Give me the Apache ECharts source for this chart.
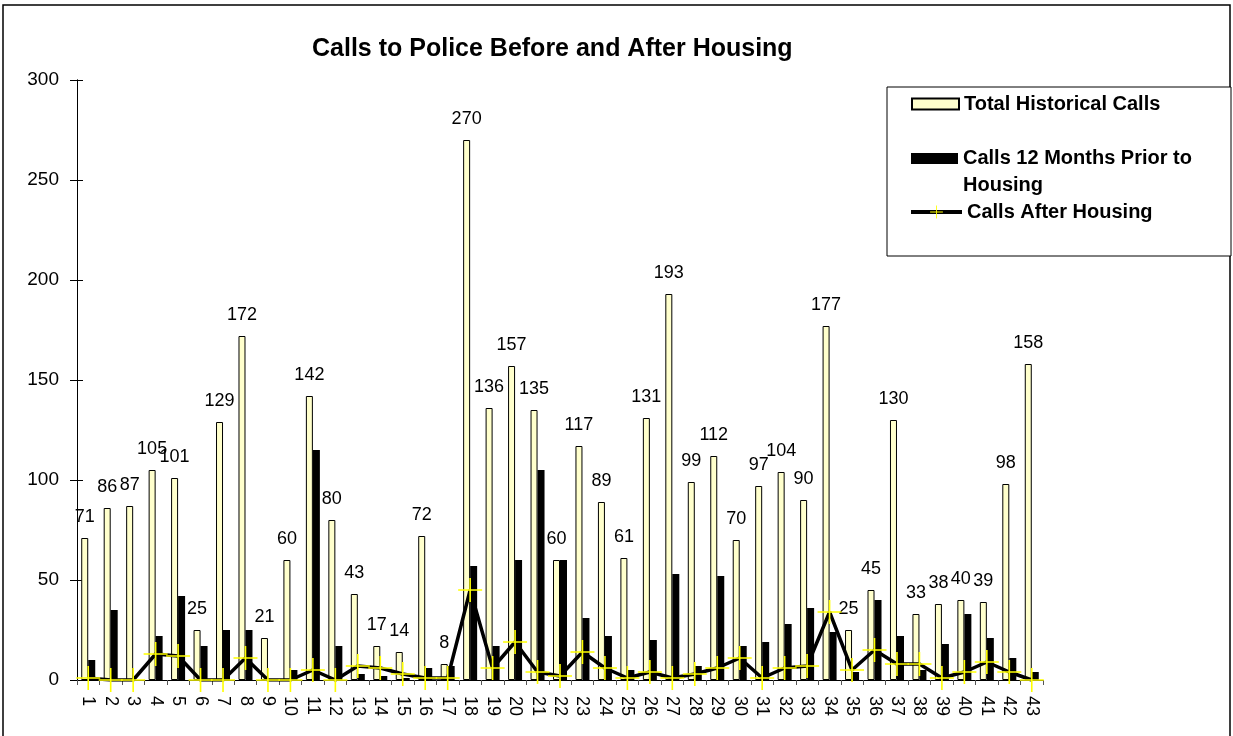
<!DOCTYPE html>
<html>
<head>
<meta charset="utf-8">
<script src="https://cdn.jsdelivr.net/npm/echarts@6/dist/echarts.min.js"></script>
<style>
  html, body { margin: 0; padding: 0; background: #fff; }
  #chart { width: 1233px; height: 736px; }
</style>
</head>
<body>
<div id="chart"></div>
<script>
var categories = ['1','2','3','4','5','6','7','8','9','10','11','12','13','14','15','16','17','18','19','20','21','22',
  '23','24','25','26','27','28','29','30','31','32','33','34','35','36','37','38','39','40','41','42','43'];
var totalCalls = [71,86,87,105,101,25,129,172,21,60,142,80,43,17,14,72,8,270,136,157,135,60,
  117,89,61,131,193,99,112,70,97,104,90,177,25,45,130,33,38,40,39,98,158];
var priorCalls = [10,35,0,22,42,17,25,25,0,5,115,17,3,2,1,6,7,57,17,60,105,60,
  31,22,5,20,53,7,52,17,19,28,36,24,4,40,22,5,18,33,21,11,4];
var afterCalls = [1,0,0,13,12,0,0,11,0,0,5,0,7,6,3,1,1,45,6,19,4,2,
  14,6,1,4,1,3,6,11,1,6,7,34,5,15,8,8,1,4,9,4,0];
var yTicks = [0, 300, 50];

var FONT = 'Liberation Sans, Arial, sans-serif';
var crossPath = 'path://M0,11.2 L24,11.2 L24,12.8 L0,12.8 Z M11.2,0 L12.8,0 L12.8,24 L11.2,24 Z';

var myChart = echarts.init(document.getElementById('chart'));
var option = {
    animation: false,
    textStyle: { fontFamily: FONT, color: '#000' },
    title: {
        text: 'Calls to Police Before and After Housing',
        left: 312,
        top: 37,
        padding: 0,
        textStyle: { fontSize: 25, fontWeight: 'bold', color: '#000', fontFamily: FONT }
    },
    graphic: [
        { type: 'rect', z: -10, shape: { x: 3, y: 5, width: 1227, height: 740 },
          style: { fill: 'none', stroke: '#000', lineWidth: 1.5 } },
        { type: 'rect', z: -10, shape: { x: 887, y: 87, width: 344, height: 169 },
          style: { fill: '#fff', stroke: '#000', lineWidth: 1 } }
    ],
    legend: [
        {
            data: [{ name: 'Total Historical Calls', icon: 'rect' }],
            left: 911, top: 94, padding: 0,
            itemWidth: 47, itemHeight: 11, itemGap: 7, selectedMode: false,
            textStyle: { fontSize: 20, fontWeight: 'bold', color: '#000', fontFamily: FONT }
        },
        {
            data: [{ name: 'Calls 12 Months Prior to Housing', icon: 'rect' }],
            left: 911, top: 118, padding: 0,
            itemWidth: 47, itemHeight: 11, itemGap: 7, selectedMode: false,
            formatter: function () { return '\u00a0\nCalls 12 Months Prior to\nHousing'; },
            textStyle: { fontSize: 20, fontWeight: 'bold', color: '#000', fontFamily: FONT, lineHeight: 27 }
        },
        {
            data: ['Calls After Housing'],
            left: 909, top: 202, padding: 0,
            itemWidth: 51, itemHeight: 16, itemGap: 5, selectedMode: false,
            lineStyle: { width: 4, color: '#000' },
            textStyle: { fontSize: 20, fontWeight: 'bold', color: '#000', fontFamily: FONT }
        }
    ],
    grid: { left: 77, right: 190, top: 80, bottom: 56, containLabel: false, outerBoundsMode: 'none' },
    xAxis: {
        type: 'category',
        data: categories,
        axisLine: { lineStyle: { color: '#000', width: 1 } },
        axisTick: { show: true, length: 5, interval: 0, lineStyle: { color: '#555' } },
        axisLabel: { interval: 0, rotate: -90, margin: 16, fontSize: 18, color: '#000', fontFamily: FONT },
        splitLine: { show: false }
    },
    yAxis: [
        {
            type: 'value', min: yTicks[0], max: yTicks[1], interval: yTicks[2],
            axisLine: { show: true, lineStyle: { color: '#000', width: 1 } },
            axisTick: { show: true, length: 7, lineStyle: { color: '#000' } },
            axisLabel: { margin: 18, fontSize: 19, color: '#000', fontFamily: FONT },
            splitLine: { show: false }
        },
        {
            type: 'value', min: yTicks[0], max: yTicks[1], interval: yTicks[2], position: 'left',
            axisLine: { show: true, lineStyle: { color: '#000', width: 1 } },
            axisTick: { show: true, inside: true, length: 6, lineStyle: { color: '#000' } },
            axisLabel: { show: false },
            splitLine: { show: false }
        }
    ],
    series: [
        {
            name: 'Total Historical Calls',
            type: 'bar',
            data: totalCalls,
            barWidth: 7,
            barGap: '0%',
            itemStyle: { color: '#FFFFCC', borderColor: '#000', borderWidth: 1 },
            label: { show: true, position: 'top', distance: 12, fontSize: 18, color: '#000', fontFamily: FONT }
        },
        {
            name: 'Calls 12 Months Prior to Housing',
            type: 'bar',
            data: priorCalls,
            barWidth: 7,
            barGap: '0%',
            itemStyle: { color: '#000' }
        },
        {
            name: 'Calls After Housing',
            type: 'line',
            data: afterCalls,
            symbol: crossPath,
            symbolSize: 24,
            itemStyle: { color: '#FFFF00' },
            lineStyle: { color: '#000', width: 3.5 },
            z: 5
        }
    ]
};
myChart.setOption(option);
window.onresize = function () {
    myChart.resize();
};
</script>
</body>
</html>
